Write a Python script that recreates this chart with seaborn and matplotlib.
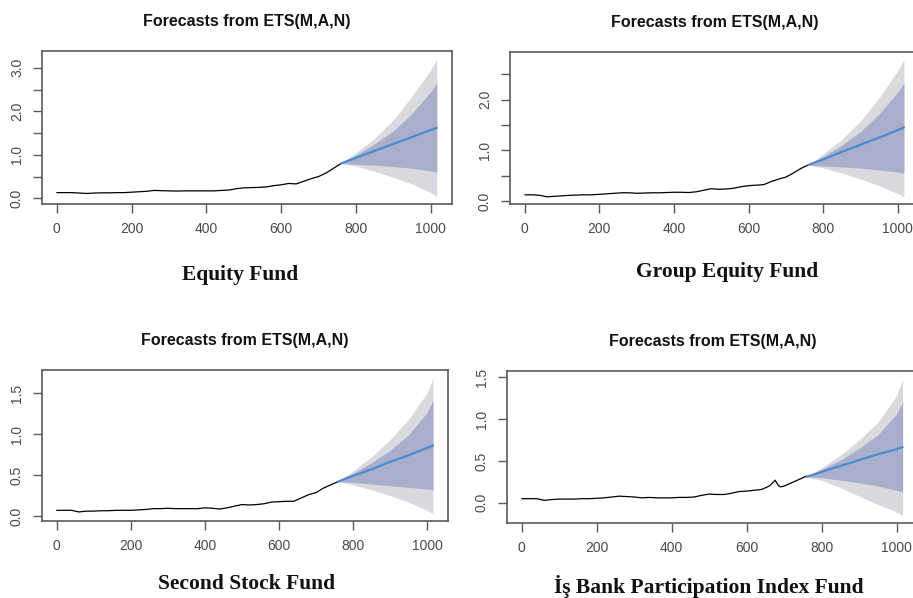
"""Recreation of four ETS(M,A,N) forecast panels (R forecast style) with seaborn."""

import matplotlib
matplotlib.use("Agg")
import matplotlib.pyplot as plt
import seaborn as sns

# ---------------------------------------------------------------- data
# historical observations, read every 20 steps
hist_x = list(range(0, 761, 20))
equity_hist = [0.13, 0.13, 0.13, 0.12, 0.11, 0.12, 0.125, 0.125, 0.13, 0.13,
               0.14, 0.15, 0.16, 0.18, 0.175, 0.17, 0.165, 0.17, 0.17, 0.17,
               0.17, 0.17, 0.18, 0.19, 0.22, 0.24, 0.245, 0.25, 0.26, 0.29,
               0.31, 0.34, 0.33, 0.39, 0.45, 0.50, 0.58, 0.69, 0.80]
group_hist = [0.12, 0.12, 0.11, 0.08, 0.09, 0.10, 0.11, 0.115, 0.12, 0.12,
              0.13, 0.14, 0.15, 0.16, 0.16, 0.15, 0.155, 0.16, 0.16, 0.165,
              0.17, 0.17, 0.165, 0.18, 0.21, 0.24, 0.23, 0.235, 0.25, 0.28,
              0.30, 0.31, 0.32, 0.38, 0.43, 0.47, 0.55, 0.64, 0.71]
second_hist = [0.07, 0.07, 0.07, 0.05, 0.06, 0.06, 0.065, 0.065, 0.07, 0.07,
               0.07, 0.075, 0.08, 0.09, 0.09, 0.095, 0.09, 0.09, 0.09, 0.09,
               0.10, 0.095, 0.085, 0.10, 0.12, 0.14, 0.135, 0.14, 0.15, 0.17,
               0.175, 0.18, 0.18, 0.22, 0.26, 0.285, 0.34, 0.38, 0.42]
isbank_x = [0, 20, 40, 60, 80, 100, 120, 140, 160, 180, 200, 220, 240, 260,
            280, 300, 320, 340, 360, 380, 400, 420, 440, 460, 480, 500, 520,
            540, 560, 580, 600, 620, 640, 660, 670, 676, 684, 690, 700, 720,
            740, 760]
isbank_hist = [0.05, 0.05, 0.05, 0.03, 0.04, 0.045, 0.045, 0.045, 0.05, 0.05,
               0.055, 0.06, 0.07, 0.08, 0.075, 0.07, 0.06, 0.065, 0.06, 0.06,
               0.06, 0.065, 0.065, 0.07, 0.09, 0.105, 0.10, 0.10, 0.115, 0.135,
               0.14, 0.15, 0.16, 0.20, 0.24, 0.27, 0.21, 0.19, 0.20, 0.24,
               0.28, 0.32]

# forecast horizon
fc_x = [760, 800, 850, 900, 950, 1000, 1016]

equity_mean = [0.80, 0.93, 1.09, 1.25, 1.41, 1.57, 1.62]
equity_hi95 = [0.80, 1.05, 1.38, 1.80, 2.35, 2.95, 3.20]
equity_hi80 = [0.80, 1.00, 1.25, 1.55, 1.95, 2.45, 2.65]
equity_lo80 = [0.80, 0.78, 0.76, 0.73, 0.69, 0.63, 0.60]
equity_lo95 = [0.80, 0.74, 0.62, 0.48, 0.33, 0.13, 0.05]

group_mean = [0.71, 0.82, 0.97, 1.11, 1.25, 1.40, 1.45]
group_hi95 = [0.71, 0.93, 1.22, 1.58, 2.04, 2.58, 2.79]
group_hi80 = [0.71, 0.88, 1.10, 1.37, 1.72, 2.15, 2.33]
group_lo80 = [0.71, 0.69, 0.67, 0.65, 0.61, 0.57, 0.55]
group_lo95 = [0.71, 0.65, 0.55, 0.43, 0.30, 0.14, 0.08]

second_mean = [0.42, 0.49, 0.57, 0.66, 0.74, 0.83, 0.86]
second_hi95 = [0.42, 0.55, 0.72, 0.93, 1.18, 1.50, 1.68]
second_hi80 = [0.42, 0.52, 0.65, 0.80, 0.99, 1.26, 1.41]
second_lo80 = [0.42, 0.41, 0.39, 0.37, 0.35, 0.33, 0.32]
second_lo95 = [0.42, 0.38, 0.32, 0.25, 0.17, 0.07, 0.03]

isbank_mean = [0.31, 0.37, 0.44, 0.51, 0.58, 0.64, 0.665]
isbank_hi95 = [0.31, 0.42, 0.57, 0.75, 0.96, 1.28, 1.47]
isbank_hi80 = [0.31, 0.40, 0.51, 0.65, 0.81, 1.06, 1.20]
isbank_lo80 = [0.31, 0.30, 0.27, 0.24, 0.20, 0.15, 0.13]
isbank_lo95 = [0.31, 0.27, 0.18, 0.08, -0.02, -0.11, -0.15]

x_ticks = [0, 200, 400, 600, 800, 1000]
y_ticks_big = [0.0, 0.5, 1.0, 1.5, 2.0, 2.5, 3.0]
y_labels_big = ["0.0", "", "1.0", "", "2.0", "", "3.0"]
y_ticks_mid = [0.0, 0.5, 1.0, 1.5, 2.0, 2.5]
y_labels_mid = ["0.0", "", "1.0", "", "2.0", ""]
y_ticks_small = [0.0, 0.5, 1.0, 1.5]
y_labels_small = ["0.0", "0.5", "1.0", "1.5"]

title = "Forecasts from ETS(M,A,N)"
captions = ["Equity Fund", "Group Equity Fund", "Second Stock Fund",
            "İş Bank Participation Index Fund"]

# ---------------------------------------------------------------- style
sns.set_theme(style="white")
plt.rcParams["font.family"] = ["Liberation Sans", "DejaVu Sans"]

GREY = "#5a5a5a"
BAND95 = "#d9d9df"
BAND80 = "#a9aecb"
BLUE = "#4a8bd0"

fig = plt.figure(figsize=(9.13, 5.98), dpi=100)

panels = [
    dict(pos=[0.046, 0.659, 0.449, 0.256], hx=hist_x, hy=equity_hist,
         mean=equity_mean, hi95=equity_hi95, hi80=equity_hi80,
         lo80=equity_lo80, lo95=equity_lo95, ylim=(-0.13, 3.39),
         yt=y_ticks_big, yl=y_labels_big, cap=(240, 275)),
    dict(pos=[0.5586, 0.659, 0.448, 0.254], hx=hist_x, hy=group_hist,
         mean=group_mean, hi95=group_hi95, hi80=group_hi80,
         lo80=group_lo80, lo95=group_lo95, ylim=(-0.06, 2.94),
         yt=y_ticks_mid, yl=y_labels_mid, cap=(727, 272)),
    dict(pos=[0.046, 0.1288, 0.4447, 0.2525], hx=hist_x, hy=second_hist,
         mean=second_mean, hi95=second_hi95, hi80=second_hi80,
         lo80=second_lo80, lo95=second_lo95, ylim=(-0.06, 1.78),
         yt=y_ticks_small, yl=y_labels_small, cap=(247, 584)),
    dict(pos=[0.5553, 0.1254, 0.450, 0.254], hx=isbank_x, hy=isbank_hist,
         mean=isbank_mean, hi95=isbank_hi95, hi80=isbank_hi80,
         lo80=isbank_lo80, lo95=isbank_lo95, ylim=(-0.24, 1.57),
         yt=y_ticks_small, yl=y_labels_small, cap=(709, 587)),
]

for p, caption in zip(panels, captions):
    ax = fig.add_axes(p["pos"])
    ax.fill_between(fc_x, p["lo95"], p["hi95"], color=BAND95, lw=0)
    ax.fill_between(fc_x, p["lo80"], p["hi80"], color=BAND80, lw=0)
    sns.lineplot(x=p["hx"], y=p["hy"], color="black", lw=0.9, ax=ax)
    sns.lineplot(x=fc_x, y=p["mean"], color=BLUE, lw=1.6, ax=ax)

    ax.set_xlim(-39.6, 1056.6)
    ax.set_ylim(*p["ylim"])
    ax.set_xticks(x_ticks)
    ax.set_xticklabels([str(t) for t in x_ticks])
    ax.set_yticks(p["yt"])
    ax.set_yticklabels(p["yl"], rotation=90, va="center")
    ax.tick_params(direction="out", length=6.5, width=1, color=GREY,
                   labelcolor="#4a4a4a", labelsize=10, pad=6.5,
                   bottom=True, left=True)
    for spine in ax.spines.values():
        spine.set_color(GREY)
        spine.set_linewidth(1.2)
    ax.grid(False)
    ax.set_title(title, fontsize=11.5, fontweight="bold", color="#111111", pad=18)

    fig.text(p["cap"][0] / 913, 1 - p["cap"][1] / 598, caption,
             ha="center", va="center", fontsize=15.5, fontweight="bold",
             family=["Liberation Serif", "DejaVu Serif"], color="#111111")

fig.savefig("out.png", dpi=100)
